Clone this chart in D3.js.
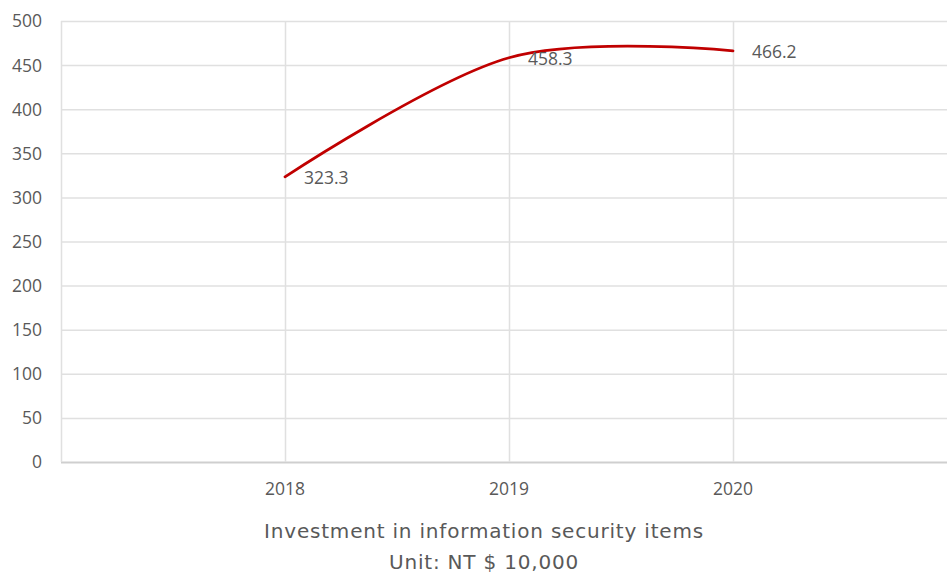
<!DOCTYPE html>
<html><head><meta charset="utf-8">
<script src="https://cdn.jsdelivr.net/npm/d3@7"></script>
<style>html,body{margin:0;padding:0;background:#fff;}svg{display:block;}</style>
</head><body>
<svg id="c" width="947" height="574"></svg>
<script>
const categories = ["2018", "2019", "2020"];
const values = [323.3, 458.3, 466.2];
const yTicks = [0, 50, 100, 150, 200, 250, 300, 350, 400, 450, 500];
const titleLines = ["Investment in information security items", "Unit: NT $ 10,000"];

(function () {
const svg = d3.select("#c");
const W = 947, H = 574;
const pLeft = 61, pRight = 957, pTop = 21, pBottom = 462;

// categories placed at slots 1..3 of a 0..4 axis (empty slots at ends)
const x = d3.scaleLinear().domain([0, categories.length + 1]).range([pLeft, pRight]);
const y = d3.scaleLinear().domain([0, 500]).range([pBottom, pTop]);
const cx = (d, i) => x(i + 1);

const font = "'Open Sans', sans-serif";
const titleFont = "'DejaVu Sans', sans-serif";
const textColor = "#595959";

// horizontal gridlines
svg.append("g").selectAll("line").data(yTicks).join("line")
  .attr("x1", pLeft).attr("x2", W)
  .attr("y1", d => y(d) + 0.5).attr("y2", d => y(d) + 0.5)
  .attr("stroke", d => d === 0 ? "#cfcfcf" : "#e0e0e0").attr("stroke-width", d => d === 0 ? 2 : 1.5);

// vertical gridlines
svg.append("g").selectAll("line").data([0, 1, 2, 3]).join("line")
  .attr("x1", d => x(d) + 0.5).attr("x2", d => x(d) + 0.5)
  .attr("y1", pTop).attr("y2", pBottom)
  .attr("stroke", "#e0e0e0").attr("stroke-width", 1.5);

// y axis labels
const yAxis = d3.axisLeft(y).tickValues(yTicks).tickSize(0).tickPadding(0);
const gy = svg.append("g").attr("transform", `translate(42,0)`).call(yAxis);
gy.select(".domain").remove();
gy.selectAll("text").attr("font-family", font).attr("font-size", 17.5).attr("fill", textColor).attr("dy", "0.34em");

// x axis labels
svg.append("g").selectAll("text").data(categories).join("text")
  .attr("x", cx).attr("y", 489).attr("dy", "0.35em")
  .attr("text-anchor", "middle")
  .attr("font-family", font).attr("font-size", 17.5).attr("fill", textColor)
  .text(d => d);

// line
const line = d3.line().x((d, i) => x(i + 1)).y(d => y(d)).curve(d3.curveCardinal.tension(0));
svg.append("path").datum(values).attr("d", line)
  .attr("fill", "none").attr("stroke", "#c00000").attr("stroke-width", 2.75).attr("stroke-linecap", "round");

// data labels
svg.append("g").selectAll("text").data(values).join("text")
  .attr("x", (d, i) => x(i + 1) + 19).attr("y", d => y(d) + 1.5).attr("dy", "0.35em")
  .attr("font-family", font).attr("font-size", 17.5).attr("fill", textColor)
  .text(d => d.toFixed(1));

// title
svg.append("g").selectAll("text").data(titleLines).join("text")
  .attr("x", 484).attr("y", (d, i) => 531 + i * 31).attr("dy", "0.35em")
  .attr("text-anchor", "middle")
  .attr("font-family", titleFont).attr("font-size", 20).attr("letter-spacing", 0.8).attr("fill", textColor)
  .text(d => d);
})();
</script>
</body></html>
